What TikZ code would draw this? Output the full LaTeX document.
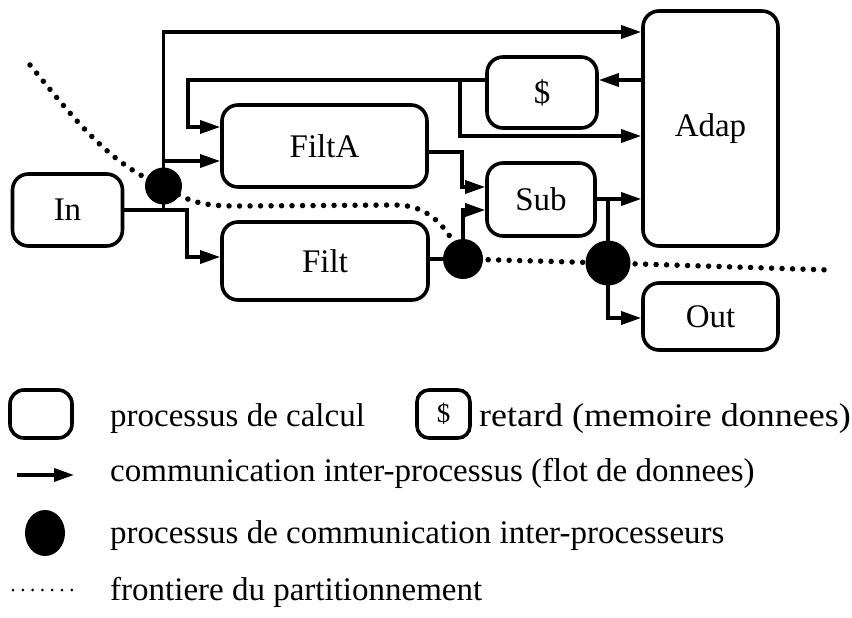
\documentclass[tikz,border=0pt]{standalone}
\usepackage{fontspec}
\setmainfont{Liberation Serif}
\usetikzlibrary{arrows.meta,shapes.geometric}
\begin{document}
\begin{tikzpicture}[x=1pt,y=-1pt,
  proc/.style={draw, line width=3.6pt, rounded corners=16pt, inner sep=0pt, align=center},
  comm/.style={circle, fill=black, inner sep=0pt},
  wire/.style={line width=3.4pt},
  arr/.style={wire, -{Triangle[length=20pt,width=13pt]}},
  border/.style={line width=5.5pt, line cap=round, dash pattern=on 0pt off 10.5pt},
  lbl/.style={anchor=base west, inner sep=0pt},
  font=\fontsize{33}{40}\selectfont]
\useasboundingbox (0,0) rectangle (852,618);

% ---------- processes ----------
\node[proc, minimum width=110pt, minimum height=72pt] (In)    at (67.5,210) {In};
\node[proc, minimum width=205pt, minimum height=82pt] (FiltA) at (324.5,146) {FiltA};
\node[proc, minimum width=206pt, minimum height=78pt] (Filt)  at (325,261) {Filt};
\node[proc, minimum width=110pt, minimum height=71pt] (Delay) at (542,92.5) {\$};
\node[proc, minimum width=108pt, minimum height=73pt] (Sub)   at (541,199.5) {Sub};
\node[proc, minimum width=135pt, minimum height=235pt] (Adap) at (710.5,128.5) {Adap};
\node[proc, minimum width=135pt, minimum height=67pt] (Out)   at (710.5,316.5) {Out};

% ---------- partition boundary ----------
\coordinate (bStart) at (30,65);
\coordinate (bEnd) at (830,270);
\coordinate (cA) at (163.5,186);
\coordinate (cB) at (463,259);
\coordinate (cC) at (608,263);
\draw[border] (bStart) .. controls (75,120) and (110,165) .. (cA)
  .. controls (192,205) and (210,206) .. (240,206) -- (395,205)
  .. controls (435,205) and (450,235) .. (cB) -- (cC) -- (bEnd);

% ---------- data flow ----------
\draw[arr] (In.east) -- (187,210) |- (Filt.west |- 0,257);
\draw[wire] (163.5,210) -- (cA);
\draw[arr] (cA) |- (FiltA.west |- 0,161);
\draw[arr] (cA) |- (Adap.west |- 0,32);
\draw[arr] (Adap.west |- 0,80) -- (Delay.east |- 0,80);
\draw[arr] (Delay.west |- 0,80) -- (188,80) |- (FiltA.west |- 0,127);
\draw[arr] (460,80) |- (Adap.west |- 0,136);
\draw[arr] (FiltA.east |- 0,152) -- (462,152) |- (Sub.west |- 0,187);
\draw[wire] (Filt.east |- 0,259) -- (cB);
\draw[arr] (cB) |- (Sub.west |- 0,210);
\draw[arr] (Sub.east |- 0,199) -- (Adap.west |- 0,199);
\draw[wire] (608,199) -- (cC);
\draw[arr] (cC) |- (Out.west |- 0,318);

% ---------- inter-processor communication ----------
\node[comm, minimum size=37pt] (dotA) at (cA) {};
\node[comm, minimum size=40pt] (dotB) at (cB) {};
\node[comm, minimum size=45pt] (dotC) at (cC) {};

% ---------- legend ----------
\node[proc, rounded corners=14pt, minimum width=62pt, minimum height=48pt] (lgBox) at (41,414) {};
\node[lbl] (lgT1) at (110,426) {processus de calcul};
\node[proc, rounded corners=12pt, minimum width=53pt, minimum height=48pt,
      font=\fontsize{27}{32}\selectfont] (lgDelay) at (443.5,414) {\$};
\node[lbl, xscale=1.09] (lgT2) at (479,426) {retard (memoire donnees)};

\coordinate (lgArrS) at (17,475);
\coordinate (lgArrE) at (74,475);
\draw[arr] (lgArrS) -- (lgArrE);
\node[lbl] (lgT3) at (110,481) {communication inter-processus (flot de donnees)};

\node[ellipse, fill=black, inner sep=0pt, minimum width=40pt, minimum height=46pt] (lgDot) at (45,533) {};
\node[lbl] (lgT4) at (110,543) {processus de communication inter-processeurs};

\coordinate (lgBdS) at (13,590);
\coordinate (lgBdE) at (72,590);
\draw[line width=3pt, line cap=round, dash pattern=on 0pt off 9.8pt] (lgBdS) -- (lgBdE);
\node[lbl] (lgT5) at (110,600) {frontiere du partitionnement};
\end{tikzpicture}
\end{document}
